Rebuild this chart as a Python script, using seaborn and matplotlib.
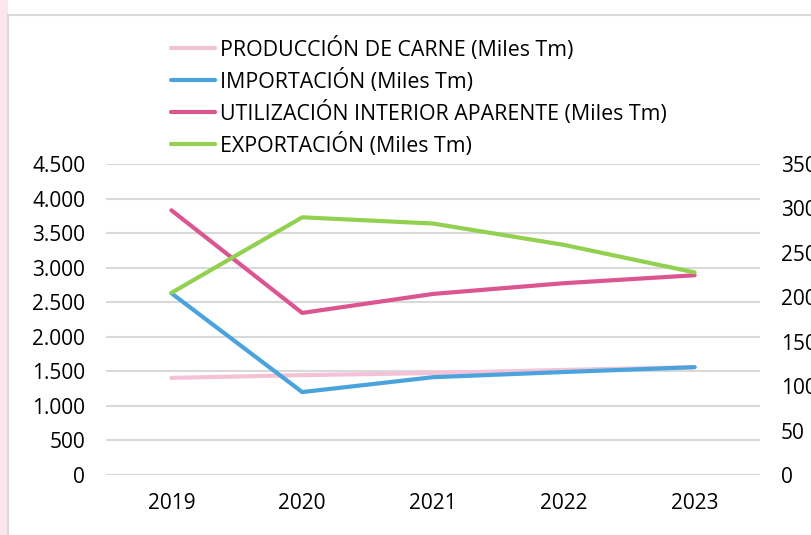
import pandas as pd
import seaborn as sns
import matplotlib.pyplot as plt
from matplotlib.patches import Rectangle

years = ['2019', '2020', '2021', '2022', '2023']
produccion = [1405, 1445, 1475, 1520, 1560]
importacion = [2630, 1200, 1415, 1490, 1560]
utilizacion = [3830, 2345, 2620, 2775, 2890]
exportacion = [205, 290, 283, 259, 228]  # eje secundario

names = ['PRODUCCIÓN DE CARNE (Miles Tm)', 'IMPORTACIÓN (Miles Tm)',
         'UTILIZACIÓN INTERIOR APARENTE (Miles Tm)', 'EXPORTACIÓN (Miles Tm)']
colors = ['#f4c2d7', '#4aa3dd', '#db5590', '#92d050']

df = pd.DataFrame({'year': years * 3,
                   'value': produccion + importacion + utilizacion,
                   'serie': [names[0]] * 5 + [names[1]] * 5 + [names[2]] * 5})
df2 = pd.DataFrame({'year': years, 'value': exportacion, 'serie': names[3]})

sns.set_style('white')
plt.rcParams['font.family'] = ['Open Sans', 'DejaVu Sans']
plt.rcParams['text.color'] = 'black'

fig = plt.figure(figsize=(8.12, 5.35), dpi=100)
# marco de la imagen
fig.patches.append(Rectangle((0, 0), 8 / 812, 1, transform=fig.transFigure,
                             facecolor='#fbe6ee', edgecolor='none', zorder=-3))
fig.patches.append(Rectangle((8.5 / 812, -0.1), 1, 1 - 15 / 535 + 0.1, transform=fig.transFigure,
                             facecolor='white', edgecolor='#d9d9d9', lw=1.5, zorder=-2))

ax = fig.add_axes([106 / 812, 60 / 535, 654 / 812, 311 / 535])
ax.patch.set_alpha(0)
sns.lineplot(data=df, x='year', y='value', hue='serie', palette=colors[:3],
             lw=3, ax=ax, legend=False, sort=False,
             solid_capstyle='round')
ax2 = ax.twinx()
sns.lineplot(data=df2, x='year', y='value', color=colors[3], lw=3, ax=ax2,
             legend=False, solid_capstyle='round')

ax.set_xlim(-0.5, 4.5)
ax.set_ylim(0, 4500)
ax.set_yticks(range(0, 4501, 500))
ax.set_yticklabels([f'{v:,}'.replace(',', '.') for v in range(0, 4501, 500)])
ax2.set_ylim(0, 350)
ax2.set_yticks(range(0, 351, 50))
ax.grid(axis='y', color='#d9d9d9', lw=1.5)
ax.set_axisbelow(True)
for a in (ax, ax2):
    for s in a.spines.values():
        s.set_visible(False)
    a.set_xlabel('')
    a.set_ylabel('')
ax.tick_params(axis='y', length=0, pad=15, labelsize=15, colors='black')
ax.tick_params(axis='x', length=0, pad=13, labelsize=15, colors='black')
ax2.tick_params(axis='y', length=0, pad=15, labelsize=15, colors='black')

handles = [plt.Line2D([], [], color=c, lw=3, solid_capstyle='round') for c in colors]
fig.legend(handles, names, loc='upper left', bbox_to_anchor=(162 / 812, 1 - 28 / 535),
           frameon=False, fontsize=15.4, handlelength=2.1, handletextpad=0.2,
           labelspacing=0.38, borderaxespad=0)

plt.savefig('out.png', dpi=100)
